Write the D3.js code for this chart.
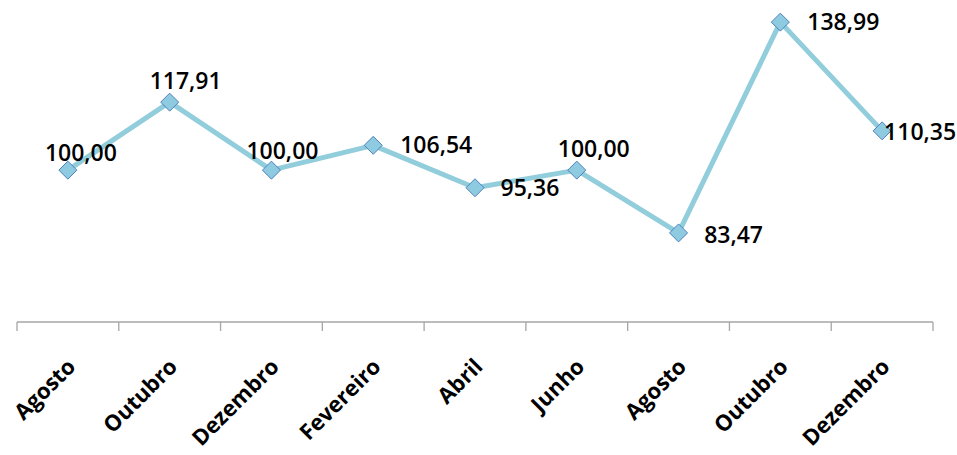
<!DOCTYPE html>
<html>
<head>
<meta charset="utf-8">
<script src="https://cdn.jsdelivr.net/npm/d3@7/dist/d3.min.js"></script>
<style>
  body { margin: 0; background: #fff; }
  svg { display: block; }
</style>
</head>
<body>
<div id="chart"></div>
<script>
var months = ["Agosto", "Outubro", "Dezembro", "Fevereiro", "Abril", "Junho", "Agosto", "Outubro", "Dezembro"];
var values = [100.00, 117.91, 100.00, 106.54, 95.36, 100.00, 83.47, 138.99, 110.35];
// where each data label sits relative to its point (dx, dy)
var labelOffsets = [[13, -17], [16, -21], [11, -19], [63, 0], [55, 0], [17, -21], [55, 2], [63, 0], [38, 1]];

var width = 957, height = 455;
var left = 17, right = 933, axisY = 322;

var svg = d3.select("#chart").append("svg")
  .attr("width", width)
  .attr("height", height);

var x = d3.scaleBand()
  .domain(d3.range(months.length))
  .range([left, right]);

var y = d3.scaleLinear()
  .domain([60, 140])
  .range([axisY, 18.3]);

var fmt = function (v) { return v.toFixed(2).replace(".", ","); };
var cx = function (i) { return x(i) + x.bandwidth() / 2; };

// category axis
var xAxis = d3.axisBottom(x).tickSize(0).tickFormat("");
var gx = svg.append("g").attr("transform", "translate(0," + axisY + ")").call(xAxis);
gx.select(".domain").attr("stroke", "#a6a6a6").attr("stroke-width", 1.3).attr("d", "M" + left + ",0H" + right);

// tick marks between categories
var edges = d3.range(months.length + 1).map(function (i) {
  return i < months.length ? x(i) : x(months.length - 1) + x.bandwidth();
});
gx.selectAll(".sep").data(edges).enter().append("line")
  .attr("class", "sep")
  .attr("x1", function (d) { return d; })
  .attr("x2", function (d) { return d; })
  .attr("y1", 0).attr("y2", 9)
  .attr("stroke", "#a6a6a6").attr("stroke-width", 1.3);

svg.selectAll(".cat").data(months).enter().append("text")
  .attr("class", "cat")
  .attr("transform", function (d, i) { return "translate(" + (cx(i) + 9) + "," + (axisY + 46) + ") rotate(-45)"; })
  .attr("text-anchor", "end")
  .style("font-family", "'Open Sans', 'Noto Sans', sans-serif")
  .style("font-weight", "bold")
  .style("font-size", "22px")
  .style("fill", "#000")
  .text(function (d) { return d; });

// line
var line = d3.line()
  .x(function (d, i) { return cx(i); })
  .y(function (d) { return y(d); });

svg.append("path")
  .datum(values)
  .attr("d", line)
  .attr("fill", "none")
  .attr("stroke", "#92cddc")
  .attr("stroke-width", 5)
  .attr("stroke-linejoin", "round");

// diamond markers
svg.selectAll(".pt").data(values).enter().append("path")
  .attr("class", "pt")
  .attr("d", "M0,-9L9,0L0,9L-9,0Z")
  .attr("transform", function (d, i) { return "translate(" + cx(i) + "," + y(d) + ")"; })
  .attr("fill", "#8ecae0")
  .attr("stroke", "#4f81bd")
  .attr("stroke-width", 1);

// data labels
svg.selectAll(".lbl").data(values).enter().append("text")
  .attr("class", "lbl")
  .attr("x", function (d, i) { return cx(i) + labelOffsets[i][0]; })
  .attr("y", function (d, i) { return y(d) + labelOffsets[i][1]; })
  .attr("text-anchor", "middle")
  .attr("dy", "0.35em")
  .style("font-family", "'Open Sans', 'Noto Sans', sans-serif")
  .style("font-weight", "600")
  .style("font-size", "23px")
  .style("fill", "#000")
  .text(fmt);
</script>
</body>
</html>
